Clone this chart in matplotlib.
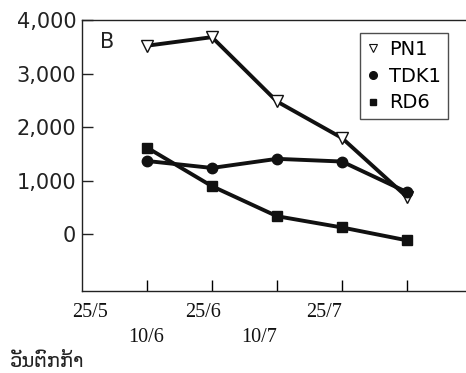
import matplotlib
matplotlib.use("Agg")
import matplotlib.pyplot as plt
from matplotlib.lines import Line2D
from matplotlib.ticker import FuncFormatter
import matplotlib.transforms as mtransforms

# ข้อมูลจากกราฟ (ค่าประมาณ)
sowing_dates = ["25/5", "10/6", "25/6", "10/7", "25/7"]
pn1 = [3520, 3680, 2480, 1800, 700]
tdk1 = [1370, 1240, 1410, 1360, 790]
rd6 = [1620, 900, 340, 130, -110]
y_ticks = [0, 1000, 2000, 3000, 4000]
panel_label = "B"
x_title = "ວັນຕົກກ້າ"

plt.rcParams['font.family'] = ['DejaVu Sans']

fig = plt.figure(figsize=(4.66, 3.73), dpi=100)
ax = fig.add_axes([0.1753, 0.2206, 0.8247, 0.7258])

x = list(range(len(pn1)))
ax.plot(x, pn1, color='#111111', lw=2.8, marker='v', ms=9,
        mfc='white', mec='#111111', mew=1.0, zorder=3)
ax.plot(x, tdk1, color='#111111', lw=2.8, marker='o', ms=7.5,
        mfc='#111111', mec='#111111', zorder=3)
ax.plot(x, rd6, color='#111111', lw=2.8, marker='s', ms=6.5,
        mfc='#111111', mec='#111111', zorder=3)

ax.set_xlim(-1.005, 4.91)
ax.set_ylim(-1050, 4000)

ax.spines['right'].set_visible(False)
for s in ['left', 'bottom', 'top']:
    ax.spines[s].set_color('#222222')
    ax.spines[s].set_linewidth(1.0)

ax.set_yticks(y_ticks)
ax.yaxis.set_major_formatter(FuncFormatter(lambda v, p: f"{int(v):,}"))
ax.tick_params(axis='y', direction='in', length=8, width=1, pad=4,
               labelsize=15, colors='#222222')
ax.set_xticks(x)
ax.set_xticklabels([])
ax.tick_params(axis='x', direction='in', length=8, width=1)

# ป้ายวันที่ (วางสลับสองแถวเหมือนต้นฉบับ)
label_x = [-0.877, -0.015, 0.869, 1.73, 2.73]
label_y = [0.1635, 0.0965, 0.1635, 0.0965, 0.1635]
trans = mtransforms.blended_transform_factory(ax.transData, fig.transFigure)
for lx, ly, txt in zip(label_x, label_y, sowing_dates):
    ax.text(lx, ly, txt, transform=trans, ha='center', va='center',
            fontsize=14.5, family='Liberation Serif', color='#111111')

fig.text(0.021, 0.03, x_title, ha='left', va='center', fontsize=14,
         color='#222222')

ax.text(0.048, 0.919, panel_label, transform=ax.transAxes, ha='left',
        va='center', fontsize=15, color='#222222')

handles = [
    Line2D([], [], ls='none', marker='v', ms=5.5, mfc='white', mec='#111111', mew=0.8, label='PN1'),
    Line2D([], [], ls='none', marker='o', ms=5.5, mfc='#111111', mec='#111111', label='TDK1'),
    Line2D([], [], ls='none', marker='s', ms=4.5, mfc='#111111', mec='#111111', label='RD6'),
]
leg = ax.legend(handles=handles, loc='upper left', bbox_to_anchor=(0.724, 0.952),
                borderaxespad=0, frameon=True, fancybox=False, fontsize=14,
                handlelength=0.6, handletextpad=0.55, labelspacing=0.4,
                borderpad=0.35)
leg.get_frame().set_edgecolor('#222222')
leg.get_frame().set_linewidth(1.0)

fig.savefig("out.png", dpi=100)
